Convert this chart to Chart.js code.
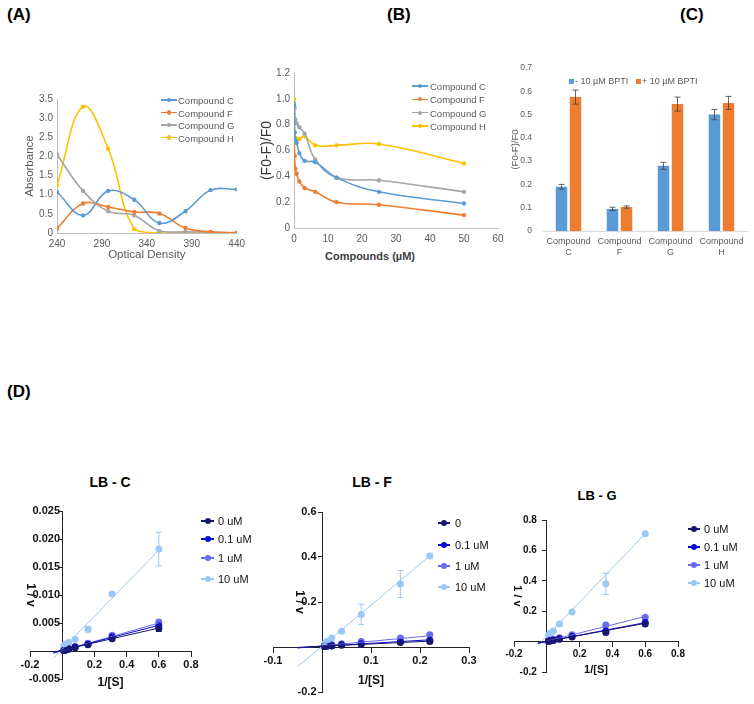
<!DOCTYPE html>
<html>
<head>
<meta charset="utf-8">
<script src="https://cdn.jsdelivr.net/npm/chart.js@4.4.1/dist/chart.umd.min.js"></script>
<style>
  body { margin: 0; background: #fff; width: 754px; height: 704px; position: relative; overflow: hidden; font-family: "Liberation Sans", Arial, sans-serif; }
  canvas { position: absolute; }
  .panel { position: absolute; font-weight: bold; font-size: 17px; color: #000; }
  .lbtitle { position: absolute; font-family: "Liberation Sans Narrow", "Liberation Sans", sans-serif; font-weight: bold; color: #000; transform: translateX(-50%); }
  .leg { position: absolute; white-space: nowrap; }
  .htitle { position: absolute; transform: translate(-50%, -50%); white-space: nowrap; }
</style>
</head>
<body>
<div class="panel" style="left:7px;top:5px">(A)</div>
<div class="panel" style="left:387px;top:5px">(B)</div>
<div class="panel" style="left:680px;top:5px">(C)</div>
<div class="panel" style="left:7px;top:382px">(D)</div>

<div class="lbtitle" style="left:110px;top:474px;font-size:14px">LB - C</div>
<div class="lbtitle" style="left:372px;top:474px;font-size:14px">LB - F</div>
<div class="lbtitle" style="left:597px;top:488px;font-size:13px">LB - G</div>

<div class="htitle" style="left:370px;top:256px;font-size:11px;font-weight:bold;color:#404040">Compounds (&micro;M)</div>

<canvas id="chartA" width="250" height="205" style="left:0;top:60px"></canvas>
<canvas id="chartB" width="260" height="230" style="left:250px;top:40px"></canvas>
<canvas id="chartC" width="244" height="230" style="left:510px;top:40px"></canvas>
<canvas id="chartLBC" width="250" height="244" style="left:0;top:460px"></canvas>
<canvas id="chartLBF" width="260" height="244" style="left:250px;top:460px"></canvas>
<canvas id="chartLBG" width="254" height="244" style="left:500px;top:460px"></canvas>

<script>
// (A) absorbance spectra
const wavelengths = [240, 269, 297, 326, 354, 383, 411, 440]
const absC = [1.07, 0.46, 1.1, 0.87, 0.26, 0.57, 1.12, 1.14]
const absF = [0.12, 0.77, 0.68, 0.55, 0.51, 0.13, 0.03, 0.01]
const absG = [2.05, 1.1, 0.57, 0.46, 0.05, 0.03, 0.02, 0]
const absH = [1.25, 3.3, 2.2, 0.1, 0, 0, 0, 0]

// (B) quenching vs concentration
const concB = [0, 0.2, 0.39, 0.78, 1.56, 3.125, 6.25, 12.5, 25, 50]
const quenchC = [0.95, 0.74, 0.68, 0.66, 0.58, 0.52, 0.51, 0.39, 0.28, 0.19]
const quenchF = [0.74, 0.56, 0.46, 0.42, 0.36, 0.31, 0.28, 0.2, 0.18, 0.1]
const quenchG = [0.97, 0.93, 0.84, 0.81, 0.78, 0.73, 0.53, 0.39, 0.37, 0.28]
const quenchH = [1.0, 0.7, 0.7, 0.69, 0.69, 0.71, 0.64, 0.64, 0.65, 0.5]

const compoundNames = ['Compound C', 'Compound F', 'Compound G', 'Compound H']
const excelColors = ['#5b9bd5', '#ed7d31', '#a5a5a5', '#ffc000']

// (C) BPTI bars
const barLabels = [['Compound', 'C'], ['Compound', 'F'], ['Compound', 'G'], ['Compound', 'H']]
const bptiNames = ['- 10 \u00b5M BPTI', '+ 10 \u00b5M BPTI']
const withoutBPTI = [0.19, 0.095, 0.28, 0.5]
const withoutErr = [0.01, 0.007, 0.015, 0.022]
const withBPTI = [0.575, 0.103, 0.545, 0.55]
const withErr = [0.03, 0.005, 0.03, 0.028]

// (D) Lineweaver-Burk
const lbColors = ['#17176e', '#0b0bd0', '#6a6aef', '#9cc8f5']
const lbNamesC = ['0 uM', '0.1 uM', '1 uM', '10 uM']
const lbNamesF = ['0', '0.1 uM', '1 uM', '10 uM']

const lbC_x = [0.6, 0.31, 0.16, 0.08, 0.04, 0.02, 0.01]
const lbC_0 = [0.0040, 0.0022, 0.0011, 0.0006, 0.0003, 0.0002, 0.0001]
const lbC_01 = [0.0045, 0.0025, 0.0012, 0.0007, 0.0004, 0.0002, 0.0001]
const lbC_1 = [0.0052, 0.0028, 0.0014, 0.0008, 0.0004, 0.0002, 0.0001]
const lbC_10 = [0.0182, 0.0102, 0.0039, 0.0021, 0.0015, 0.0012, 0.0009]
const lbC_err10 = [0.003, 0.0003, 0.0005, 0.0003, 0.0002, 0.0002, 0.0001]
const lbC_err0 = [0.0005, 0.0002, 0, 0, 0, 0, 0]
const lbC_fitX = [-0.055, 0.6]
const lbC_fitY = [[-0.0002, 0.0041], [-0.0003, 0.0046], [-0.0004, 0.0050], [-0.0013, 0.0180]]

const lbF_x = [0.22, 0.16, 0.08, 0.04, 0.02, 0.01, 0.005]
const lbF_0 = [0.025, 0.02, 0.012, 0.008, 0.005, 0.003, 0.002]
const lbF_01 = [0.03, 0.025, 0.015, 0.01, 0.006, 0.004, 0.003]
const lbF_1 = [0.055, 0.04, 0.025, 0.015, 0.01, 0.006, 0.004]
const lbF_10 = [0.405, 0.28, 0.145, 0.07, 0.04, 0.025, 0.015]
const lbF_err10 = [0.01, 0.06, 0.045, 0.008, 0.005, 0.004, 0.003]
const lbF_fitX = [-0.05, 0.22]
const lbF_fitY = [[-0.002, 0.026], [-0.003, 0.032], [-0.005, 0.05], [-0.088, 0.405]]

const lbG_x = [0.6, 0.36, 0.154, 0.077, 0.04, 0.02, 0.01]
const lbG_0 = [0.115, 0.06, 0.03, 0.015, 0.008, 0.004, 0.002]
const lbG_01 = [0.125, 0.07, 0.035, 0.018, 0.01, 0.005, 0.003]
const lbG_1 = [0.16, 0.11, 0.045, 0.025, 0.015, 0.008, 0.005]
const lbG_10 = [0.71, 0.38, 0.195, 0.115, 0.07, 0.055, 0.04]
const lbG_err10 = [0.01, 0.07, 0.01, 0.01, 0.005, 0.005, 0.005]
const lbG_fitX = [-0.055, 0.6]
const lbG_fitY = [[-0.01, 0.12], [-0.01, 0.125], [-0.012, 0.165], [-0.027, 0.71]]

Chart.defaults.font.family = '"Liberation Sans", Arial, sans-serif'
Chart.defaults.color = '#595959'
Chart.defaults.animation = false
Chart.defaults.responsive = false
Chart.defaults.plugins.legend.display = false
Chart.defaults.plugins.tooltip.enabled = false

// vertical error bars drawn from the dataset's own y scale
const errorBars = {
  id: 'errorBars',
  afterDatasetsDraw(chart) {
    const ctx = chart.ctx
    const yScale = chart.scales.y
    chart.data.datasets.forEach((ds, i) => {
      if (!ds.errors) return
      const meta = chart.getDatasetMeta(i)
      ctx.save()
      ctx.strokeStyle = ds.errorColor || ds.borderColor
      ctx.lineWidth = ds.errorWidth || 1
      meta.data.forEach((el, j) => {
        const e = ds.errors[j]
        if (!e) return
        const raw = ds.data[j]
        const v = typeof raw === 'object' ? raw.y : raw
        const top = yScale.getPixelForValue(v + e)
        const bot = yScale.getPixelForValue(v - e)
        const cap = ds.errorCap || 3
        ctx.beginPath()
        ctx.moveTo(el.x, top); ctx.lineTo(el.x, bot)
        ctx.moveTo(el.x - cap, top); ctx.lineTo(el.x + cap, top)
        ctx.moveTo(el.x - cap, bot); ctx.lineTo(el.x + cap, bot)
        ctx.stroke()
      })
      ctx.restore()
    })
  }
}

const pairs = (xs, ys) => xs.map((x, i) => ({ x: x, y: ys[i] }))

function excelLine(xs, series) {
  return series.map((ys, k) => ({
    label: compoundNames[k],
    data: pairs(xs, ys),
    showLine: true,
    tension: 0.4,
    borderColor: excelColors[k],
    backgroundColor: excelColors[k],
    borderWidth: 1.6,
    pointRadius: 2.2,
    pointBorderWidth: 0
  }))
}

// (A)
new Chart(document.getElementById('chartA'), {
  type: 'scatter',
  data: { datasets: excelLine(wavelengths, [absC, absF, absG, absH]) },
  options: {
    layout: { padding: { top: 39, right: 8, left: 0, bottom: 0 } },
    scales: {
      x: {
        min: 240, max: 440,
        ticks: { stepSize: 50, padding: 5, font: { size: 10 } },
        grid: { display: false, drawTicks: false },
        border: { color: '#bfbfbf' },
        title: { display: true, text: 'Optical Density', font: { size: 11.5 }, padding: { top: 0, bottom: 3 } },
        afterFit(s) { s.height = 32 }
      },
      y: {
        min: 0, max: 3.5,
        ticks: { stepSize: 0.5, padding: 4, font: { size: 10 } },
        grid: { display: false, drawTicks: false },
        border: { color: '#bfbfbf' },
        title: { display: true, text: 'Absorbance', font: { size: 11.5 }, padding: { top: 23, bottom: 0 } },
        afterFit(s) { s.width = 57 }
      }
    }
  }
})

// (B)
new Chart(document.getElementById('chartB'), {
  type: 'scatter',
  data: { datasets: excelLine(concB, [quenchC, quenchF, quenchG, quenchH]) },
  options: {
    layout: { padding: { top: 33, right: 12, left: 0, bottom: 0 } },
    scales: {
      x: {
        min: 0, max: 60,
        ticks: { stepSize: 10, padding: 5, font: { size: 10 } },
        grid: { display: false, drawTicks: false },
        border: { color: '#bfbfbf' },
        afterFit(s) { s.height = 42 }
      },
      y: {
        min: 0, max: 1.2,
        ticks: { stepSize: 0.2, padding: 4, font: { size: 10 } },
        grid: { display: false, drawTicks: false },
        border: { color: '#bfbfbf' },
        title: { display: true, text: '(F0-F)/F0', color: '#333', font: { size: 14 }, padding: { top: 9, bottom: 0 } },
        afterFit(s) { s.width = 44 }
      }
    }
  }
})

// (C)
new Chart(document.getElementById('chartC'), {
  type: 'bar',
  data: {
    labels: barLabels,
    datasets: [
      { label: bptiNames[0], data: withoutBPTI, errors: withoutErr, backgroundColor: excelColors[0], errorColor: '#404040', errorWidth: 0.8, errorCap: 3 },
      { label: bptiNames[1], data: withBPTI, errors: withErr, backgroundColor: excelColors[1], errorColor: '#404040', errorWidth: 0.8, errorCap: 3 }
    ]
  },
  options: {
    categoryPercentage: 0.55,
    barPercentage: 0.82,
    layout: { padding: { top: 28, right: 7, left: 0, bottom: 0 } },
    scales: {
      x: {
        ticks: { padding: 5, font: { size: 9 }, maxRotation: 0 },
        grid: { display: false, drawTicks: false },
        border: { color: '#d9d9d9' },
        afterFit(s) { s.height = 39 }
      },
      y: {
        min: 0, max: 0.7,
        ticks: { stepSize: 0.1, padding: 11, font: { size: 8.5 } },
        grid: { display: false, drawTicks: false },
        border: { display: false },
        title: { display: true, text: '(F0-F)/F0', font: { size: 9.5 }, padding: { top: 0, bottom: 0 } },
        afterFit(s) { s.width = 33 }
      }
    }
  },
  plugins: [errorBars]
})

// (D) Lineweaver-Burk plots, axes crossing at the origin
function lbChart(id, xs, series, errs, fitX, fitY, ax) {
  const datasets = []
  series.forEach((ys, k) => {
    datasets.push({
      data: pairs(fitX, fitY[k]),
      showLine: true,
      borderColor: lbColors[k],
      borderWidth: 1,
      pointRadius: 0
    })
  })
  series.forEach((ys, k) => {
    datasets.push({
      data: pairs(xs, ys),
      backgroundColor: lbColors[k],
      borderColor: lbColors[k],
      pointRadius: ax.r,
      pointBorderWidth: 0,
      errors: errs[k],
      errorCap: 3
    })
  })
  const font = { family: '"Liberation Sans Narrow", "Liberation Sans", sans-serif', weight: 'bold', size: ax.font }
  const hideZero = (d, gap) => v => Math.abs(v) < 1e-9 ? '' : v.toFixed(d) + gap
  return new Chart(document.getElementById(id), {
    type: 'scatter',
    data: { datasets: datasets },
    options: {
      layout: { padding: ax.pad },
      scales: {
        x: {
          position: { y: 0 },
          min: ax.xmin, max: ax.xmax,
          ticks: { stepSize: ax.xstep, color: '#111', font: font, padding: 2, callback: hideZero(1, '') },
          grid: { drawOnChartArea: false, tickLength: 5, color: '#222' },
          border: { color: '#222' },
          title: { display: true, text: '1/[S]', color: '#111', font: Object.assign({}, font, { size: ax.titleSize }), padding: 0 },
          afterFit(s) { s.height = ax.xh }
        },
        y: {
          position: { x: 0 },
          min: ax.ymin, max: ax.ymax,
          ticks: { stepSize: ax.ystep, color: '#111', font: font, padding: 2, callback: hideZero(ax.yd, ax.gap) },
          grid: { drawOnChartArea: false, tickLength: 4, color: '#222' },
          border: { color: '#222' },
          title: { display: true, text: '1 / v', color: '#111', font: Object.assign({}, font, { size: ax.titleSize }), padding: 0 },
          afterFit(s) { s.width = ax.yw }
        }
      }
    },
    plugins: [errorBars]
  })
}

lbChart('chartLBC', lbC_x, [lbC_0, lbC_01, lbC_1, lbC_10], [lbC_err0, null, null, lbC_err10], lbC_fitX, lbC_fitY, {
  pad: { left: 30, right: 59, top: 51, bottom: 25 },
  xmin: -0.2, xmax: 0.8, xstep: 0.2, ymin: -0.005, ymax: 0.025, ystep: 0.005, yd: 3, gap: '\u2009',
  font: 11, titleSize: 12, xh: 39, yw: 39, r: 3.5
})
lbChart('chartLBF', lbF_x, [lbF_0, lbF_01, lbF_1, lbF_10], [null, null, null, lbF_err10], lbF_fitX, lbF_fitY, {
  pad: { left: 23, right: 41, top: 52, bottom: 12 },
  xmin: -0.1, xmax: 0.3, xstep: 0.1, ymin: -0.2, ymax: 0.6, ystep: 0.2, yd: 1, gap: '\u2002',
  font: 11, titleSize: 12, xh: 41, yw: 30, r: 3.5
})
lbChart('chartLBG', lbG_x, [lbG_0, lbG_01, lbG_1, lbG_10], [null, null, null, lbG_err10], lbG_fitX, lbG_fitY, {
  pad: { left: 14, right: 76, top: 60, bottom: 32 },
  xmin: -0.2, xmax: 0.8, xstep: 0.2, ymin: -0.2, ymax: 0.8, ystep: 0.2, yd: 1, gap: '\u2002\u2002',
  font: 10, titleSize: 11, xh: 35, yw: 36, r: 3.5
})

// legends (HTML text)
function lineLegend(names, colors, symLeft, symW, textLeft, rows, fontCss, textColor, dotR, lineH) {
  names.forEach((name, k) => {
    const y = rows[k]
    const line = document.createElement('div')
    line.style.cssText = `position:absolute;left:${symLeft}px;top:${y - lineH / 2}px;width:${symW}px;height:${lineH}px;background:${colors[k]}`
    const dot = document.createElement('div')
    dot.style.cssText = `position:absolute;left:${symLeft + symW / 2 - dotR}px;top:${y - dotR}px;width:${dotR * 2}px;height:${dotR * 2}px;border-radius:50%;background:${colors[k]}`
    const txt = document.createElement('div')
    txt.className = 'leg'
    txt.textContent = name
    txt.style.cssText += `left:${textLeft}px;top:${y}px;transform:translateY(-50%);font:${fontCss};color:${textColor}`
    document.body.append(line, dot, txt)
  })
}

const excelFont = '9.5px "Liberation Sans", Arial, sans-serif'
lineLegend(compoundNames, excelColors, 161, 16, 178, [100, 112.5, 125, 137.5], excelFont, '#595959', 2.2, 1.6)
lineLegend(compoundNames, excelColors, 412, 16, 430, [86, 99.3, 112.7, 126], excelFont, '#595959', 2.2, 1.6)

const narrow = '"Liberation Sans Narrow", "Liberation Sans", sans-serif'
lineLegend(lbNamesC, lbColors, 201, 13, 218, [521, 539, 558, 579], `11px ${narrow}`, '#111', 3, 1.2)
lineLegend(lbNamesF, lbColors, 438, 12, 455, [523, 545, 566, 587], `11px ${narrow}`, '#111', 3, 1.2)
lineLegend(lbNamesC, lbColors, 688, 12, 704, [529, 547, 565, 583], `11px ${narrow}`, '#111', 3, 1.2)

// (C) legend with square markers
const sqLefts = [569, 636]
bptiNames.forEach((name, k) => {
  const sq = document.createElement('div')
  sq.style.cssText = `position:absolute;left:${sqLefts[k]}px;top:78.5px;width:5px;height:5px;background:${excelColors[k]}`
  const txt = document.createElement('div')
  txt.className = 'leg'
  txt.textContent = name
  txt.style.cssText += `left:${sqLefts[k] + 6}px;top:81px;transform:translateY(-50%);font:9px "Liberation Sans", Arial, sans-serif;color:#595959`
  document.body.append(sq, txt)
})
</script>
</body>
</html>
